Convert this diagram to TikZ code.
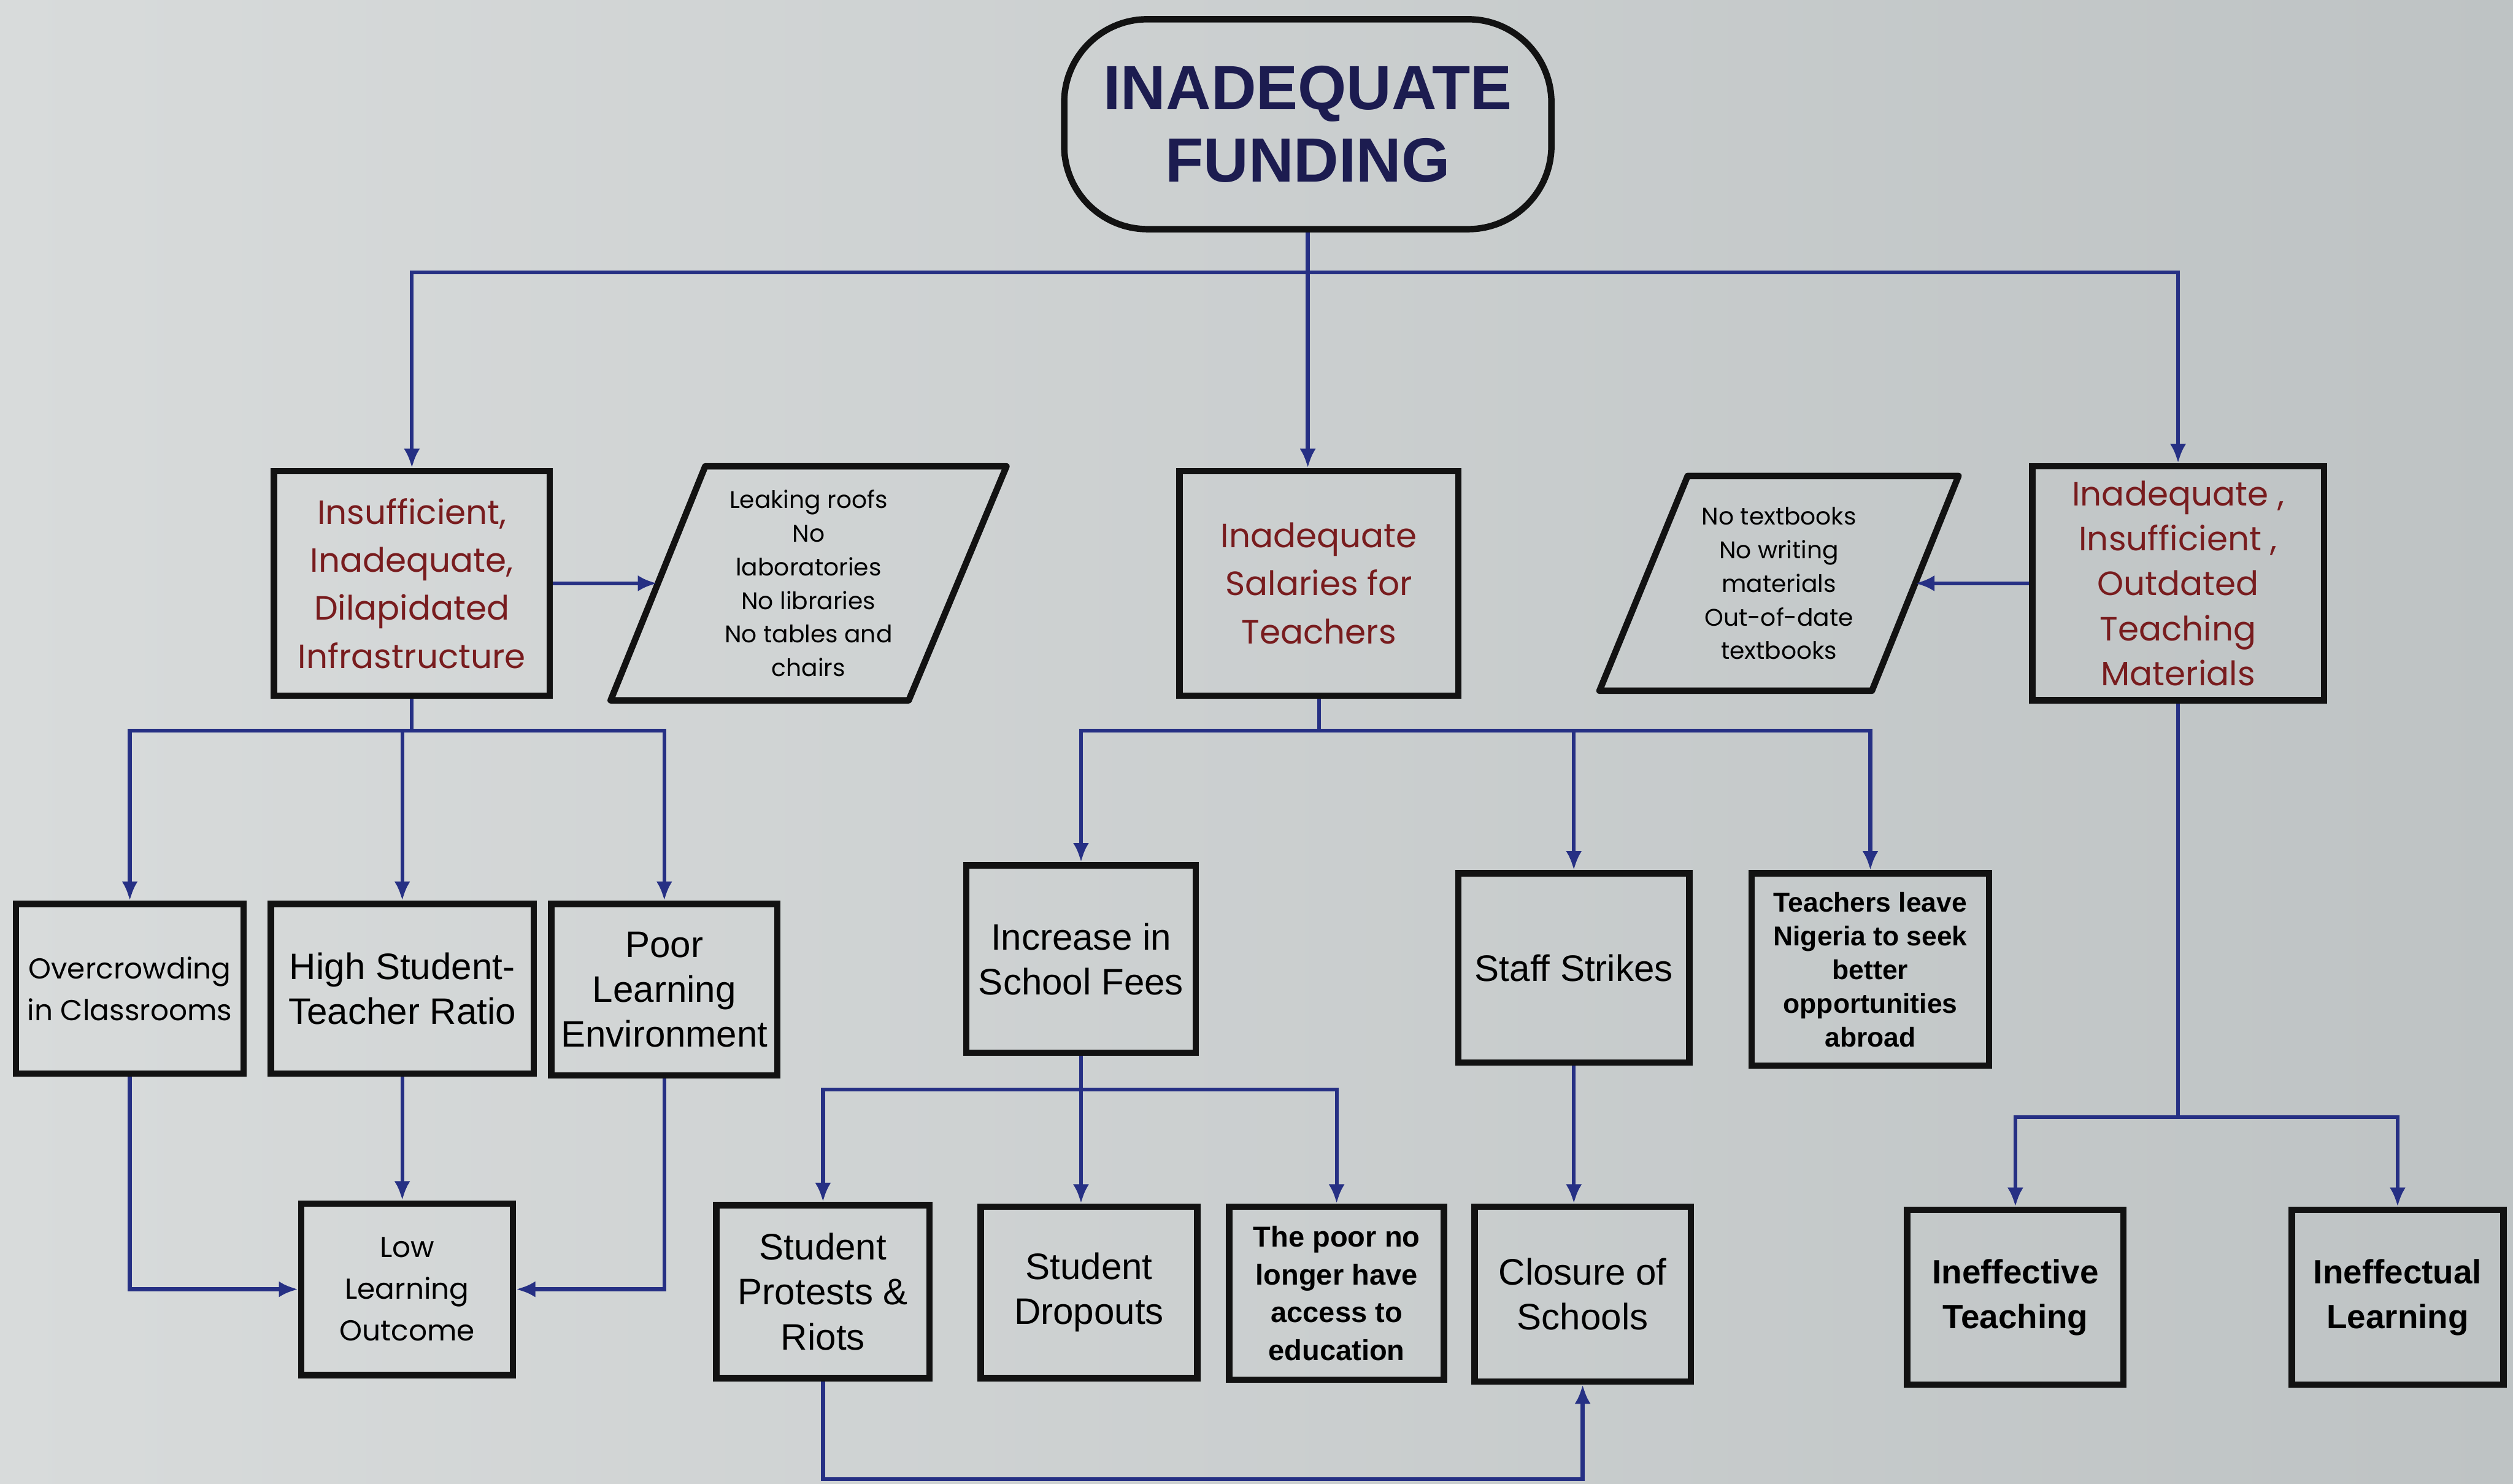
\documentclass[tikz,border=0pt]{standalone}
\usepackage{fontspec}
\setmainfont{Liberation Sans}
\newfontfamily\gothic{Poppins}
\usetikzlibrary{arrows.meta}

\definecolor{linkblue}{RGB}{38,48,132}
\definecolor{titlenavy}{RGB}{28,28,80}
\definecolor{causered}{RGB}{120,28,30}
\definecolor{boxblack}{RGB}{18,18,18}
\definecolor{bgleft}{RGB}{216,219,219}
\definecolor{bgright}{RGB}{190,195,196}

\tikzset{every picture/.style={line width=0.75pt}}
\tikzset{
  fbox/.style={draw=boxblack, line width=2pt, inner sep=0pt, align=center},
  pgram/.style={draw=boxblack, line width=2pt, line join=round},
  link/.style={draw=linkblue, line width=1.2pt},
  linkarrow/.style={link, -{Latex[length=6pt,width=5pt]}},
  redtxt/.style={text=causered, font=\gothic\fontsize{10.5}{15}\selectfont},
  geotxt/.style={font=\gothic\fontsize{9}{13}\selectfont},
  listtxt/.style={align=center, inner sep=0pt, font=\gothic\fontsize{7.5}{10.5}\selectfont},
  plaintxt/.style={font=\fontsize{11.5}{14}\selectfont},
  boldtxt/.style={font=\bfseries\fontsize{8.5}{10.5}\selectfont},
}

\begin{document}
\begin{tikzpicture}[x=0.5pt,y=0.5pt,yscale=-1,xscale=1]
\useasboundingbox (0,0) rectangle (1568,926);
%Background
\shade [left color=bgleft, right color=bgright] (0,0) rectangle (1568,926);

% Title Node
\draw (816,77.5) node [fbox, rounded corners=26pt, minimum width=152pt, minimum height=65.5pt, text=titlenavy, font=\bfseries\fontsize{19.5}{22.5}\selectfont] (funding) {INADEQUATE\\FUNDING};

%Shape: Rectangle
\draw (257,364) node [fbox, redtxt, minimum width=86pt, minimum height=70pt] (infra) {Insufficient,\\Inadequate,\\Dilapidated\\Infrastructure};
%Shape: Rectangle
\draw (823,364) node [fbox, redtxt, minimum width=87pt, minimum height=70pt] (salaries) {Inadequate\\Salaries for\\Teachers};
%Shape: Rectangle
\draw (1359,364) node [fbox, redtxt, font=\gothic\fontsize{10.5}{14}\selectfont, minimum width=91pt, minimum height=73pt] (materials) {Inadequate ,\\Insufficient ,\\Outdated\\Teaching\\Materials};

%Shape: Parallelogram
\draw [pgram] (440,291) -- (628,291) -- (567,437) -- (381,437) -- cycle;
\draw (504.5,364) node [listtxt] (lacks) {Leaking roofs\\No\\laboratories\\No libraries\\No tables and\\chairs};
\coordinate (lacksin) at (410,364);
%Shape: Parallelogram
\draw [pgram] (1053,297) -- (1222,297) -- (1168,431) -- (998,431) -- cycle;
\draw (1110,364) node [listtxt] (books) {No textbooks\\No writing\\materials\\Out-of-date\\textbooks};
\coordinate (booksin) at (1195,364);

%Shape: Rectangle
\draw (81,617) node [fbox, geotxt, minimum width=71pt, minimum height=53pt] (crowd) {Overcrowding\\in Classrooms};
\draw (251,617) node [fbox, plaintxt, minimum width=82pt, minimum height=53pt] (ratio) {High Student-\\Teacher Ratio};
\draw (414.5,617.5) node [fbox, plaintxt, minimum width=70.5pt, minimum height=53.5pt] (environ) {Poor\\Learning\\Environment};
\draw (254,804.5) node [fbox, geotxt, minimum width=66pt, minimum height=53.5pt] (outcome) {Low\\Learning\\Outcome};

%Shape: Rectangle
\draw (674.5,598.5) node [fbox, plaintxt, minimum width=71.5pt, minimum height=58.5pt] (fees) {Increase in\\School Fees};
\draw (982,604) node [fbox, plaintxt, minimum width=72pt, minimum height=59pt] (strikes) {Staff Strikes};
\draw (1167,605) node [fbox, boldtxt, minimum width=74pt, minimum height=60pt] (abroad) {Teachers leave\\Nigeria to seek\\better\\opportunities\\abroad};

%Shape: Rectangle
\draw (513.5,806) node [fbox, plaintxt, minimum width=66.5pt, minimum height=54pt] (protests) {Student\\Protests \&\\Riots};
\draw (679.5,806.5) node [fbox, plaintxt, minimum width=67.5pt, minimum height=53.5pt] (dropouts) {Student\\Dropouts};
\draw (834,807) node [fbox, font=\bfseries\fontsize{9}{11.8}\selectfont, minimum width=67pt, minimum height=54pt] (access) {The poor no\\longer have\\access to\\education};
\draw (987.5,807.5) node [fbox, plaintxt, minimum width=67.5pt, minimum height=54.5pt] (closure) {Closure of\\Schools};

%Shape: Rectangle
\draw (1257.5,809.5) node [fbox, font=\bfseries\fontsize{10.5}{14}\selectfont, minimum width=67.5pt, minimum height=54.5pt] (teaching) {Ineffective\\Teaching};
\draw (1496,809.5) node [fbox, font=\bfseries\fontsize{10.5}{14}\selectfont, minimum width=66pt, minimum height=54.5pt] (learning) {Ineffectual\\Learning};

%Straight Lines
\coordinate (jtop) at (816,170);
\draw [link] (funding.south) -- (jtop);
\draw [linkarrow] (jtop) -| (infra.north);
\draw [linkarrow] (jtop) -- (jtop |- salaries.north);
\draw [linkarrow] (jtop) -| (materials.north);
\draw [linkarrow] (infra.east) -- (lacksin);
\draw [linkarrow] (materials.west) -- (booksin);

%Straight Lines
\coordinate (jinfra) at (257,456);
\draw [link] (infra.south) -- (jinfra);
\draw [linkarrow] (jinfra) -| (crowd.north);
\draw [linkarrow] (jinfra) -| (ratio.north);
\draw [linkarrow] (jinfra) -| (environ.north);
\draw [linkarrow] (crowd.south) |- (outcome.west);
\draw [linkarrow] (ratio.south) -- (ratio.south |- outcome.north);
\draw [linkarrow] (environ.south) |- (outcome.east);

%Straight Lines
\coordinate (jpay) at (823,456);
\draw [link] (salaries.south) -- (jpay);
\draw [linkarrow] (jpay) -| (fees.north);
\draw [linkarrow] (jpay) -| (strikes.north);
\draw [linkarrow] (jpay) -| (abroad.north);
\coordinate (jfees) at (674.5,680);
\draw [link] (fees.south) -- (jfees);
\draw [linkarrow] (jfees) -| (protests.north);
\draw [linkarrow] (jfees) -- (jfees |- dropouts.north);
\draw [linkarrow] (jfees) -| (access.north);
\draw [linkarrow] (strikes.south) -- (strikes.south |- closure.north);
\draw [linkarrow] (protests.south) -- ++(0,61) -| (closure.south);

%Straight Lines
\coordinate (jmat) at (1359,697);
\draw [link] (materials.south) -- (jmat);
\draw [linkarrow] (jmat) -| (teaching.north);
\draw [linkarrow] (jmat) -| (learning.north);

\end{tikzpicture}
\end{document}
